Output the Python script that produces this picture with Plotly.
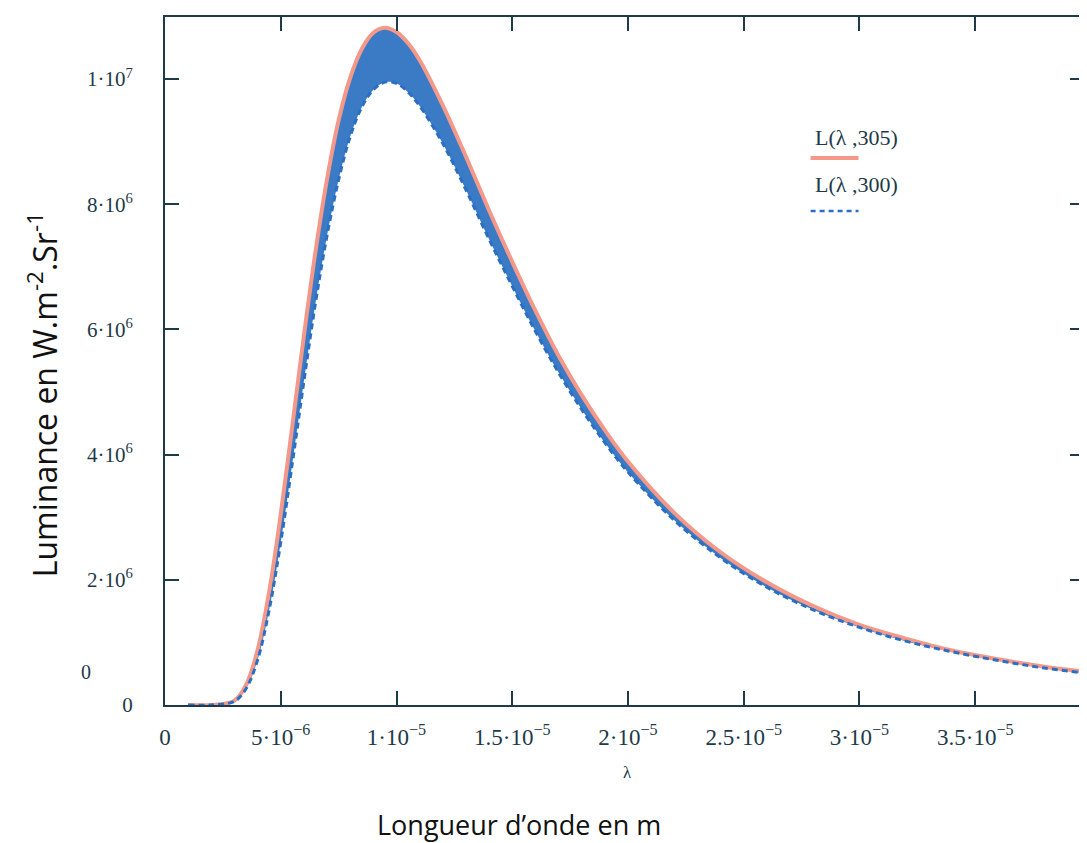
import plotly.graph_objects as go

# Wavelength (m) and luminance (W.m-2.Sr-1)
wavelength_um = [1, 2, 3, 3.5, 4, 4.5, 5, 5.5, 6, 6.5, 7, 7.5, 8, 8.5, 9, 9.5, 10,
                 10.5, 11, 12, 13, 14, 15, 16, 17, 18, 19, 20, 22, 24, 26, 28, 30,
                 32, 34, 36, 38, 40]
lum_305 = [0, 0, 0.07e6, 0.32e6, 0.88e6, 1.81e6, 3.05e6, 4.46e6, 5.90e6, 7.24e6,
           8.40e6, 9.34e6, 10.02e6, 10.48e6, 10.74e6, 10.82e6, 10.75e6, 10.57e6,
           10.30e6, 9.58e6, 8.76e6, 7.90e6, 7.08e6, 6.30e6, 5.58e6, 4.95e6, 4.39e6,
           3.89e6, 3.07e6, 2.44e6, 1.96e6, 1.58e6, 1.28e6, 1.06e6, 0.87e6, 0.73e6,
           0.61e6, 0.52e6]
lum_300 = [0, 0, 0.06e6, 0.26e6, 0.72e6, 1.52e6, 2.60e6, 3.86e6, 5.17e6, 6.42e6,
           7.50e6, 8.39e6, 9.08e6, 9.55e6, 9.83e6, 9.95e6, 9.93e6, 9.79e6, 9.57e6,
           8.97e6, 8.23e6, 7.44e6, 6.69e6, 5.97e6, 5.31e6, 4.72e6, 4.19e6, 3.72e6,
           2.95e6, 2.35e6, 1.88e6, 1.52e6, 1.24e6, 1.02e6, 0.85e6, 0.71e6, 0.59e6,
           0.50e6]
wavelength = [w * 1e-6 for w in wavelength_um]

x_tickvals = [0, 5e-6, 1e-5, 1.5e-5, 2e-5, 2.5e-5, 3e-5, 3.5e-5]
x_ticktext = ["0", "5·10<sup>−6</sup>", "1·10<sup>−5</sup>", "1.5·10<sup>−5</sup>",
              "2·10<sup>−5</sup>", "2.5·10<sup>−5</sup>", "3·10<sup>−5</sup>",
              "3.5·10<sup>−5</sup>"]
y_tickvals = [0, 2e6, 4e6, 6e6, 8e6, 1e7]
y_ticktext = ["0", "2·10<sup>6</sup>", "4·10<sup>6</sup>", "6·10<sup>6</sup>",
              "8·10<sup>6</sup>", "1·10<sup>7</sup>"]

RED = "#f4998a"
BLUE = "#3b7bc6"
DASH_BLUE = "#2a6fc4"
AXIS = "#1e3a48"
SERIF = "Liberation Serif"

OFF = 8  # page body margin
W, H = 1087 - OFF, 843 - OFF
L_M, R_EDGE, T_M, B_EDGE = 165 - OFF, 1086 - OFF, 17 - OFF, 705 - OFF


def px(x):
    return (x - OFF - L_M) / (R_EDGE - L_M)


def py(y):
    return (B_EDGE - (y - OFF)) / (B_EDGE - T_M)


fig = go.Figure()
fig.add_trace(go.Scatter(x=wavelength, y=lum_300, mode="lines",
                         line=dict(color=DASH_BLUE, width=0, shape="spline"),
                         showlegend=False, hoverinfo="skip"))
fig.add_trace(go.Scatter(x=wavelength, y=lum_305, mode="lines", fill="tonexty",
                         fillcolor=BLUE,
                         line=dict(color=RED, width=4, shape="spline"),
                         name="L(λ ,305)", showlegend=False))
fig.add_trace(go.Scatter(x=wavelength, y=lum_300, mode="lines",
                         line=dict(color=DASH_BLUE, width=3, dash="6px,4px",
                                   shape="spline"),
                         name="L(λ ,300)", showlegend=False))

axis_common = dict(showline=True, linecolor=AXIS, linewidth=2, mirror="ticks",
                   ticks="inside", ticklen=14, tickwidth=2, tickcolor=AXIS,
                   showgrid=False, zeroline=False)

fig.update_xaxes(range=[0, (R_EDGE - L_M) / 23.2 * 1e-6], tickmode="array",
                 tickvals=x_tickvals, ticktext=x_ticktext,
                 tickfont=dict(family=SERIF, size=23, color=AXIS),
                 ticklabelstandoff=10, **axis_common)
fig.update_yaxes(range=[0, (B_EDGE - T_M) / 62.6 * 1e6], tickmode="array",
                 tickvals=y_tickvals, ticktext=y_ticktext,
                 tickfont=dict(family=SERIF, size=21, color=AXIS),
                 ticklabelstandoff=26, **axis_common)

annotations = [
    dict(x=px(86), y=py(672), text="0", font=dict(family=SERIF, size=20, color=AXIS)),
    dict(x=px(629), y=py(772), text="λ", font=dict(family=SERIF, size=17, color=AXIS)),
    dict(x=px(520), y=py(824), text="Longueur d’onde en m",
         font=dict(family="Open Sans", size=27, color="#111111")),
    dict(x=px(42), y=py(395), text="Luminance en W.m<sup>-2</sup>.Sr<sup>-1</sup>",
         textangle=-90, font=dict(family="Open Sans", size=32, color="#111111")),
    dict(x=px(858), y=py(137), text="L(λ ,305)",
         font=dict(family=SERIF, size=22, color=AXIS)),
    dict(x=px(858), y=py(184), text="L(λ ,300)",
         font=dict(family=SERIF, size=22, color=AXIS)),
]
for a in annotations:
    a.update(xref="paper", yref="paper", showarrow=False,
             xanchor="center", yanchor="middle")

shapes = [
    dict(type="line", xref="paper", yref="paper", x0=px(812), x1=px(860),
         y0=py(158), y1=py(158), line=dict(color=RED, width=4)),
    dict(type="line", xref="paper", yref="paper", x0=px(812), x1=px(860),
         y0=py(211), y1=py(211), line=dict(color=DASH_BLUE, width=2.5, dash="5px,4px")),
]

fig.update_layout(width=W, height=H,
                  margin=dict(l=L_M, r=W - R_EDGE, t=T_M, b=H - B_EDGE),
                  paper_bgcolor="white", plot_bgcolor="white",
                  annotations=annotations, shapes=shapes, showlegend=False)

fig.write_html("out.html")
